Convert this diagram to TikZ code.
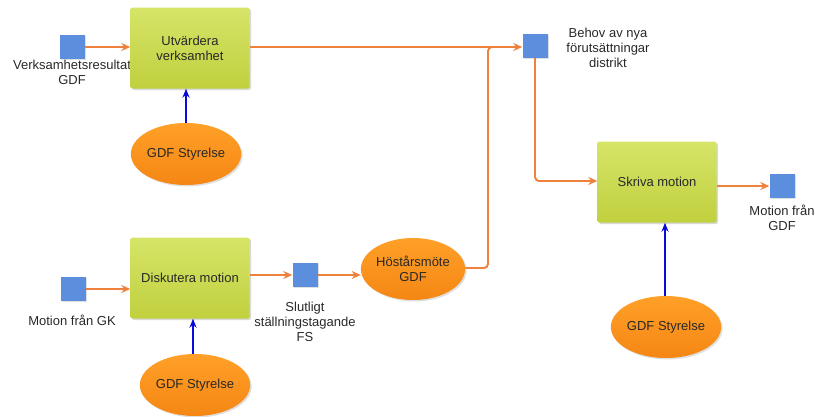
\documentclass[tikz,border=0pt]{standalone}
\usepackage{fontspec}
\setmainfont{Liberation Sans}
\usetikzlibrary{shapes.geometric,arrows.meta,shadows}

\definecolor{boxtop}{RGB}{214,228,104}
\definecolor{boxbot}{RGB}{192,208,62}
\definecolor{sqblue}{RGB}{92,142,222}
\definecolor{ovaltop}{RGB}{255,160,40}
\definecolor{ovalbot}{RGB}{245,135,20}
\definecolor{flowor}{RGB}{238,130,60}
\definecolor{ctrlblue}{RGB}{10,10,220}
\definecolor{txt}{RGB}{40,40,40}

\tikzset{
  process/.style={rectangle, rounded corners=2pt, minimum width=119pt,
    minimum height=81pt, top color=boxtop, bottom color=boxbot, draw=none,
    drop shadow={opacity=0.3, shadow xshift=1.5pt, shadow yshift=-1.5pt},
    align=center, text=txt},
  datum/.style={rectangle, minimum width=25pt, minimum height=24pt,
    fill=sqblue, draw=none, inner sep=0pt,
    drop shadow={opacity=0.25, shadow xshift=1pt, shadow yshift=-1pt}},
  actor/.style={ellipse, minimum width=93pt, minimum height=62pt, inner sep=0pt,
    top color=ovaltop, bottom color=ovalbot, draw=none,
    drop shadow={opacity=0.25, shadow xshift=1.5pt, shadow yshift=-1.5pt},
    align=center, text=txt},
  lbl/.style={align=center, text=txt, inner sep=0pt},
  flow/.style={draw=flowor, line width=1.9pt, rounded corners=4pt,
    -{Stealth[length=9pt,width=8pt]}},
  plain/.style={draw=flowor, line width=1.9pt, rounded corners=4pt},
  ctrl/.style={draw=ctrlblue, line width=1.3pt, -{Stealth[length=9pt,width=7pt]}}
}

\begin{document}
\begin{tikzpicture}[x=1pt, y=-1pt,
  every node/.style={font=\fontsize{13}{15}\selectfont}]
\useasboundingbox (0,0) rectangle (815,416);

% input labels that sit partly behind the boxes
\node[lbl] (lvr) at (72,72) {Verksamhetsresultat\\GDF};

% activity boxes
\node[process] (utv) at (190,48) {Utvärdera\\verksamhet};
\node[process] (disk) at (190,278) {Diskutera motion};
\node[process] (skriva) at (657,182) {Skriva motion};

% data items
\node[datum] (dvr) at (72,47) {};
\node[datum] (dgk) at (73,289) {};
\node[datum] (dfs) at (305,275) {};
\node[datum] (dbehov) at (535,46) {};
\node[datum] (dgdf) at (782,186) {};

\node[lbl] (lgk) at (72,320) {Motion från GK};
\node[lbl] (lfs) at (305,322) {Slutligt\\ställningstagande\\FS};
\node[lbl] (lbehov) at (608,48) {Behov av nya\\förutsättningar\\distrikt};
\node[lbl] (lgdf) at (782,218) {Motion från\\GDF};

% actors
\node[actor] (sty1) at (186,154) {GDF Styrelse};
\node[actor] (sty2) at (195,385) {GDF Styrelse};
\node[actor] (sty3) at (666,327) {GDF Styrelse};
\node[actor] (host) at (413,269) {Höstårsmöte\\GDF};

% bend points
\coordinate (m1) at (488,47);
\coordinate (m2) at (535,181);

% flows
\draw[flow] (dvr.east) -- (utv.west |- dvr.east);
\draw[flow] (utv.east |- 0,47) -- (dbehov.west |- 0,47);
\draw[flow] (dgk.east) -- (disk.west |- dgk.east);
\draw[flow] (disk.east |- dfs.west) -- (dfs.west);
\draw[flow] (dfs.east) -- (host.west |- dfs.east);
\draw[plain] (host.east |- 0,268) -- (m1 |- 0,268) -- (m1) -- ([xshift=20pt]m1);
\draw[flow] (dbehov.south) -- (m2) -- (skriva.west |- m2);
\draw[flow] (skriva.east |- dgdf.west) -- (dgdf.west);

% controls
\draw[ctrl] (sty1.north) -- (utv.south -| sty1.north);
\draw[ctrl] (sty2.north -| 193,0) -- (disk.south -| 193,0);
\draw[ctrl] (sty3.north -| 665,0) -- (skriva.south -| 665,0);
\end{tikzpicture}
\end{document}
